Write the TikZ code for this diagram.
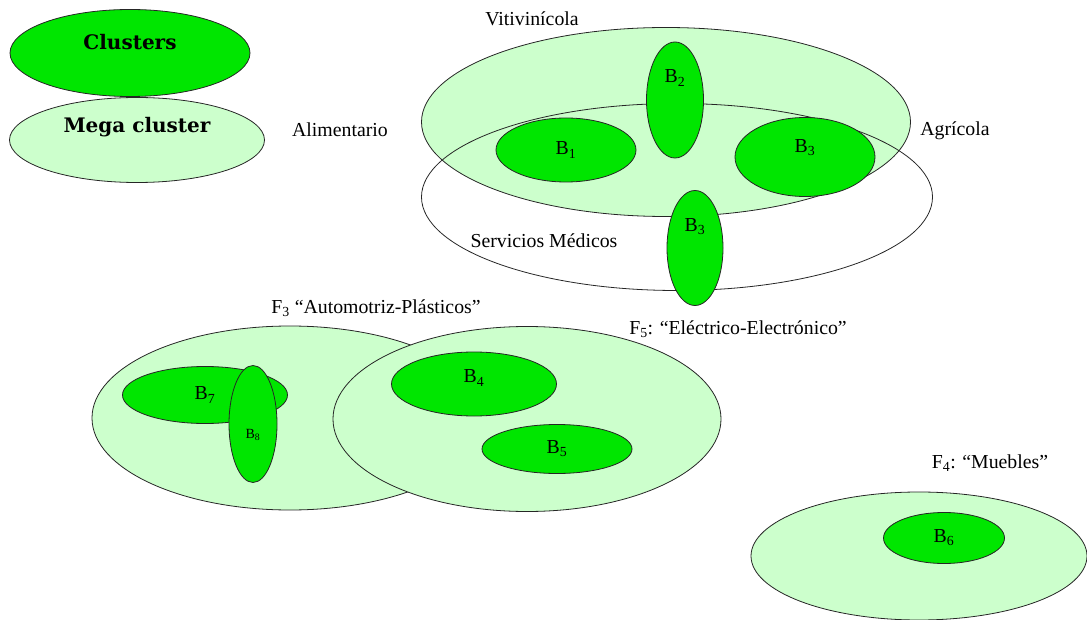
\documentclass[tikz,border=0pt]{standalone}
\usepackage{fontspec}
\setmainfont{Liberation Serif}
\newfontfamily\legendfont{DejaVu Serif}
\usetikzlibrary{shapes.geometric}

\definecolor{palegreen}{RGB}{204,255,204}
\definecolor{vividgreen}{RGB}{0,230,0}

\tikzset{
	oval/.style={ellipse, draw=black!85, line width=0.8pt, inner sep=0pt},
	bubble/.style={oval, fill=vividgreen},
	field/.style={oval, fill=palegreen},
	ring/.style={oval},
	tag/.style={inner sep=0pt}
}

\begin{document}
\begin{tikzpicture}[x=1pt, y=-1pt, font=\fontsize{19.8}{22}\selectfont]
	\useasboundingbox (0,0) rectangle (1087,620);
	% legend
	\node[bubble, minimum width=240pt, minimum height=87pt, label={[yshift=11pt]center:{\legendfont\bfseries\fontsize{20}{24}\selectfont Clusters}}] (clus) at (130,53) {};
	\node[field, minimum width=255pt, minimum height=85pt, label={[yshift=13pt]center:{\legendfont\bfseries\fontsize{20}{24}\selectfont Mega cluster}}] (mega) at (137,140) {};
	% Alimentario
	\node[field, minimum width=489pt, minimum height=189pt] (viti) at (666,122) {};
	\node[ring, minimum width=511pt, minimum height=187pt] (serv) at (677,197) {};
	\node[bubble, minimum width=140pt, minimum height=64pt] (b1) at (566,150) {B\textsubscript{1}};
	\node[bubble, minimum width=57pt, minimum height=116pt, label={[yshift=22pt]center:B\textsubscript{2}}] (b2) at (675,100) {};
	\node[bubble, minimum width=140pt, minimum height=79pt, label={[yshift=9pt]center:B\textsubscript{3}}] (b3) at (805,157) {};
	\node[bubble, minimum width=56pt, minimum height=115pt, label={[yshift=21pt]center:B\textsubscript{3}}] (b3b) at (695,248) {};
	\node[tag] (viti-t) at (532,19) {Vitivinícola};
	\node[tag] (alim-t) at (340,130) {Alimentario};
	\node[tag] (agri-t) at (955,131) {Agrícola};
	\node[tag] (serv-t) at (544,241) {Servicios Médicos};
	% F3 and F5
	\node[field, minimum width=396pt, minimum height=184pt] (f3) at (290,418) {};
	\node[field, minimum width=388pt, minimum height=185pt] (f5) at (527,419) {};
	\node[bubble, minimum width=165pt, minimum height=57pt] (b7) at (205,395) {B\textsubscript{7}};
	\node[bubble, minimum width=48pt, minimum height=117pt, label={[yshift=-11pt]center:{\fontsize{14}{16}\selectfont B\textsubscript{8}}}] (b8) at (253,424) {};
	\node[bubble, minimum width=165pt, minimum height=64pt, label={[yshift=6pt]center:B\textsubscript{4}}] (b4) at (474,384) {};
	\node[bubble, minimum width=150pt, minimum height=49pt] (b5) at (557,449) {B\textsubscript{5}};
	\node[tag] (f3-t) at (376,308) {F\textsubscript{3} “Automotriz-Plásticos”};
	\node[tag] (f5-t) at (738,329) {F\textsubscript{5}: “Eléctrico-Electrónico”};
	% F4
	\node[field, minimum width=336pt, minimum height=128pt] (f4) at (919,556) {};
	\node[bubble, minimum width=121pt, minimum height=51pt] (b6) at (944,538) {B\textsubscript{6}};
	\node[tag] (f4-t) at (990,463) {F\textsubscript{4}: “Muebles”};
\end{tikzpicture}
\end{document}
